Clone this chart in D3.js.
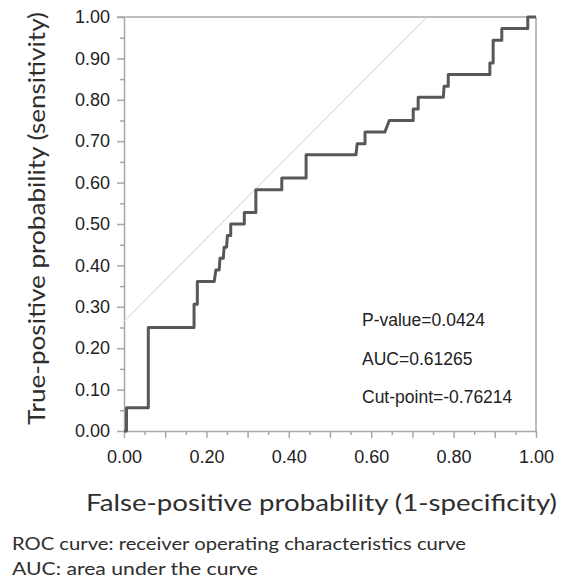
<!DOCTYPE html>
<html>
<head>
<meta charset="utf-8">
<script src="https://cdn.jsdelivr.net/npm/d3@7"></script>
<style>
  body { margin: 0; background: #fff; }
  svg { display: block; }
  .axis path, .axis line { stroke: #a8a8a8; stroke-width: 1.5; }
  .axis text { font-family: "Liberation Sans", Arial, sans-serif; font-size: 18px; fill: #222; }
</style>
</head>
<body>
<script>
//ROC curve vertices (false-positive rate, true-positive rate)
var fpr = [0, 0.006, 0.006, 0.059, 0.059, 0.170, 0.170, 0.178, 0.178, 0.219, 0.223, 0.231, 0.233,
           0.241, 0.243, 0.249, 0.251, 0.259, 0.259, 0.292, 0.292, 0.320, 0.320, 0.383, 0.383,
           0.442, 0.442, 0.563, 0.566, 0.585, 0.585, 0.633, 0.644, 0.702, 0.702, 0.714, 0.714,
           0.775, 0.777, 0.787, 0.787, 0.888, 0.888, 0.896, 0.896, 0.917, 0.917, 0.980, 0.980, 1.0];
var tpr = [0, 0, 0.056, 0.056, 0.250, 0.250, 0.306, 0.306, 0.361, 0.361, 0.389, 0.389, 0.417,
           0.417, 0.444, 0.444, 0.472, 0.472, 0.500, 0.500, 0.528, 0.528, 0.583, 0.583, 0.611,
           0.611, 0.667, 0.667, 0.694, 0.694, 0.722, 0.722, 0.750, 0.750, 0.778, 0.778, 0.806,
           0.806, 0.833, 0.833, 0.861, 0.861, 0.889, 0.889, 0.944, 0.944, 0.972, 0.972, 1.0, 1.0];

//reference line through the cut-point (slope 1)
var refLine = [[0, 0.265], [0.735, 1]];

var xTickLabels = [0, 0.2, 0.4, 0.6, 0.8, 1.0];
var yTickLabels = [0, 0.1, 0.2, 0.3, 0.4, 0.5, 0.6, 0.7, 0.8, 0.9, 1.0];

var stats = ["P-value=0.0424", "AUC=0.61265", "Cut-point=-0.76214"];
var notes = ["ROC curve: receiver operating characteristics curve",
             "AUC: area under the curve"];

window.onload = drawChart();

function drawChart(){

    var width = 567,
        height = 580;

    var plotLeft = 124, plotRight = 536, plotTop = 17, plotBottom = 431;

    var svg = d3.select("body")
        .append("svg")
        .attr("width", width)
        .attr("height", height);

    var x = d3.scaleLinear().domain([0, 1]).range([plotLeft, plotRight]);
    var y = d3.scaleLinear().domain([0, 1]).range([plotBottom, plotTop]);

    var majors = d3.range(0, 1.0001, 0.1);
    var minors = d3.range(0.05, 1, 0.1);

    //minor ticks
    svg.append("g")
        .attr("class", "axis")
        .attr("transform", "translate(" + plotLeft + ",0)")
        .call(d3.axisLeft(y).tickValues(minors).tickSize(4).tickFormat(""))
        .select(".domain").remove();
    svg.append("g")
        .attr("class", "axis")
        .attr("transform", "translate(0," + plotBottom + ")")
        .call(d3.axisBottom(x).tickValues(minors).tickSize(4).tickFormat(""))
        .select(".domain").remove();

    //major ticks and axis lines
    svg.append("g")
        .attr("class", "axis")
        .attr("transform", "translate(" + plotLeft + ",0)")
        .call(d3.axisLeft(y).tickValues(majors).tickSize(7).tickSizeOuter(0).tickFormat(""));
    svg.append("g")
        .attr("class", "axis")
        .attr("transform", "translate(0," + plotBottom + ")")
        .call(d3.axisBottom(x).tickValues(majors).tickSize(7).tickSizeOuter(0).tickFormat(""));

    //tick labels
    svg.append("g")
        .attr("class", "axis")
        .attr("transform", "translate(" + plotLeft + ",0)")
        .call(d3.axisLeft(y).tickValues(yTickLabels).tickSize(0).tickPadding(14).tickFormat(d3.format(".2f")))
        .select(".domain").remove();

    svg.append("g")
        .attr("class", "axis")
        .attr("transform", "translate(0," + plotBottom + ")")
        .call(d3.axisBottom(x).tickValues(xTickLabels).tickSize(0).tickPadding(19).tickFormat(d3.format(".2f")))
        .select(".domain").remove();

    //top and right frame
    svg.append("line")
        .attr("x1", plotLeft - 7).attr("x2", plotRight)
        .attr("y1", y(1)).attr("y2", y(1))
        .attr("stroke", "#a8a8a8").attr("stroke-width", 1.5);
    svg.append("line")
        .attr("x1", plotRight).attr("x2", plotRight)
        .attr("y1", y(1)).attr("y2", plotBottom)
        .attr("stroke", "#a8a8a8").attr("stroke-width", 1.5);

    //diagonal reference
    svg.append("line")
        .attr("x1", x(refLine[0][0])).attr("y1", y(refLine[0][1]))
        .attr("x2", x(refLine[1][0])).attr("y2", y(refLine[1][1]))
        .attr("stroke", "#cfcfcf").attr("stroke-width", 1);

    //ROC curve
    var line = d3.line()
        .x(function(d, i){ return x(fpr[i]); })
        .y(function(d, i){ return y(tpr[i]); });

    svg.append("path")
        .datum(fpr)
        .attr("d", line)
        .attr("fill", "none")
        .attr("stroke", "#585858")
        .attr("stroke-width", 3)
        .attr("stroke-linejoin", "round");

    //statistics
    svg.selectAll(".stat")
        .data(stats)
        .enter().append("text")
        .attr("class", "stat")
        .attr("x", 362)
        .attr("y", function(d, i){ return 326 + i * 38.5; })
        .attr("font-family", "Liberation Sans, Arial, sans-serif")
        .attr("font-size", 17.5)
        .attr("fill", "#222")
        .text(function(d){ return d; });

    //stretch text to a measured width
    function fit(sel, w){
        sel.attr("textLength", w).attr("lengthAdjust", "spacingAndGlyphs");
    }

    //axis titles
    svg.append("text")
        .attr("x", 86).attr("y", 511)
        .attr("font-family", "Lato, sans-serif")
        .attr("font-size", 24)
        .attr("fill", "#2e2e2e")
        .text("False-positive probability (1-specificity)")
        .call(fit, 471);

    svg.append("text")
        .attr("transform", "translate(45,425) rotate(-90)")
        .attr("font-family", "Lato, sans-serif")
        .attr("font-size", 24)
        .attr("fill", "#2e2e2e")
        .text("True-positive probability (sensitivity)")
        .call(fit, 413);

    //footnotes
    svg.selectAll(".note")
        .data(notes)
        .enter().append("text")
        .attr("class", "note")
        .attr("x", 12)
        .attr("y", function(d, i){ return 550 + i * 25; })
        .attr("font-family", "Lato, sans-serif")
        .attr("font-size", 17)
        .attr("fill", "#2e2e2e")
        .text(function(d){ return d; })
        .each(function(d, i){ d3.select(this).call(fit, i === 0 ? 454 : 246); });
};
</script>
</body>
</html>
